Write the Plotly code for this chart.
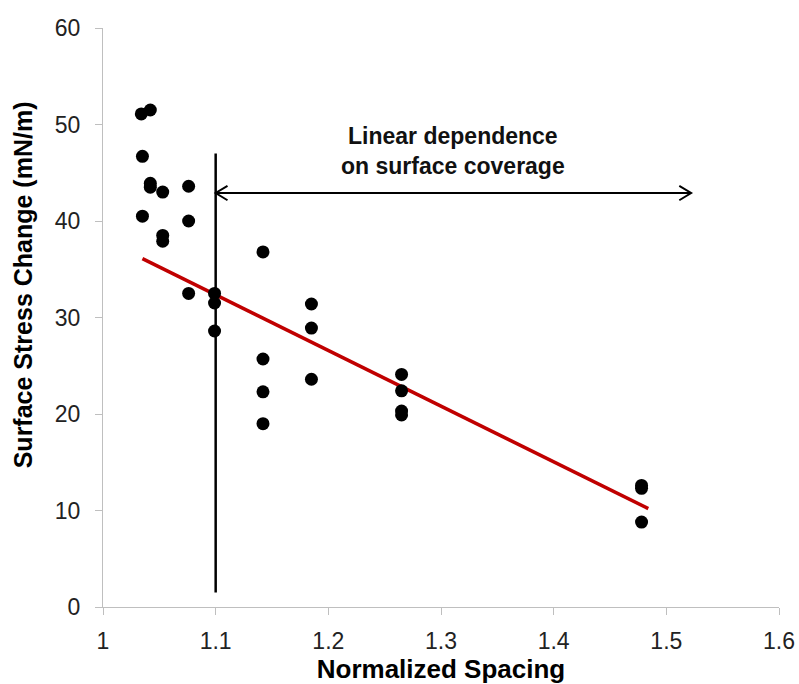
import plotly.graph_objects as go

# Measured surface stress change vs normalized spacing
spacing = [1.034, 1.042, 1.035, 1.042, 1.042, 1.053, 1.035, 1.053, 1.053,
           1.076, 1.076, 1.076,
           1.099, 1.099, 1.099,
           1.142, 1.142, 1.142, 1.142,
           1.185, 1.185, 1.185,
           1.265, 1.265, 1.265, 1.265,
           1.478, 1.478, 1.478]
stress = [51.1, 51.5, 46.7, 43.9, 43.5, 43.0, 40.5, 38.5, 37.9,
          43.6, 40.0, 32.5,
          32.5, 31.5, 28.6,
          36.8, 25.7, 22.3, 19.0,
          31.4, 28.9, 23.6,
          24.1, 22.4, 20.3, 19.9,
          12.6, 12.3, 8.8]

# Linear fit endpoints
fit_x = [1.035, 1.484]
fit_y = [36.1, 10.2]

# Boundary marker and range arrow
boundary_x = 1.1
boundary_y = [1.5, 47.0]
arrow_x = [1.1, 1.522]
arrow_y = 42.9
label_pos = (1.311, 47.3)
label_text = "<b>Linear dependence<br>on surface coverage</b>"

x_title = "<b>Normalized Spacing</b>"
y_title = "<b>Surface Stress Change (mN/m)</b>"

x_range = [1.0, 1.6]
y_range = [0, 60]
x_ticks = [1, 1.1, 1.2, 1.3, 1.4, 1.5, 1.6]
x_ticktext = ["1", "1.1", "1.2", "1.3", "1.4", "1.5", "1.6"]
y_ticks = [0, 10, 20, 30, 40, 50, 60]

fig = go.Figure()

fig.add_trace(go.Scatter(
    x=fit_x, y=fit_y, mode="lines",
    line=dict(color="#C00000", width=3.5), hoverinfo="skip"))

fig.add_trace(go.Scatter(
    x=spacing, y=stress, mode="markers",
    marker=dict(color="black", size=13)))

# vertical boundary line
fig.add_trace(go.Scatter(
    x=[boundary_x, boundary_x], y=boundary_y, mode="lines",
    line=dict(color="black", width=2.5), hoverinfo="skip"))

# double-headed arrow with open chevron heads
head_dx = 0.0105
head_dy = 0.75
ax0, ax1 = arrow_x
arr_x = [ax0, ax1, None,
         ax0 + head_dx, ax0, ax0 + head_dx, None,
         ax1 - head_dx, ax1, ax1 - head_dx]
arr_y = [arrow_y, arrow_y, None,
         arrow_y + head_dy, arrow_y, arrow_y - head_dy, None,
         arrow_y + head_dy, arrow_y, arrow_y - head_dy]
fig.add_trace(go.Scatter(
    x=arr_x, y=arr_y, mode="lines",
    line=dict(color="black", width=2), hoverinfo="skip"))

fig.add_annotation(
    x=label_pos[0], y=label_pos[1], text=label_text, showarrow=False,
    font=dict(family="Arial, Liberation Sans", size=23, color="#111111"),
    align="center")

axis_font = dict(family="Arial, Liberation Sans", size=23, color="#222222")
title_font = dict(family="Arial, Liberation Sans", size=26, color="black")

# y-axis title, placed a little above the plot's middle
fig.add_annotation(
    xref="paper", yref="paper", x=-0.118, y=0.556,
    text=y_title, textangle=-90, showarrow=False,
    xanchor="center", yanchor="middle",
    font=dict(family="Arial, Liberation Sans", size=25, color="black"))

fig.update_xaxes(
    range=x_range, tickvals=x_ticks, ticktext=x_ticktext,
    showgrid=False, zeroline=False, showline=True, linecolor="#BFBFBF",
    linewidth=1, ticks="outside", tickcolor="#BFBFBF", ticklen=7,
    tickfont=axis_font, automargin=False, ticklabelstandoff=6,
    title=dict(text=x_title, font=title_font, standoff=14))
fig.update_yaxes(
    range=y_range, tickvals=y_ticks,
    showgrid=False, zeroline=False, showline=True, linecolor="#BFBFBF",
    linewidth=1, ticks="outside", tickcolor="#BFBFBF", ticklen=7,
    tickfont=axis_font, automargin=False, ticklabelstandoff=10)

fig.update_layout(
    width=799, height=684, showlegend=False,
    plot_bgcolor="white", paper_bgcolor="white",
    margin=dict(l=103, r=20, t=28, b=77))

fig.write_html("out.html")
